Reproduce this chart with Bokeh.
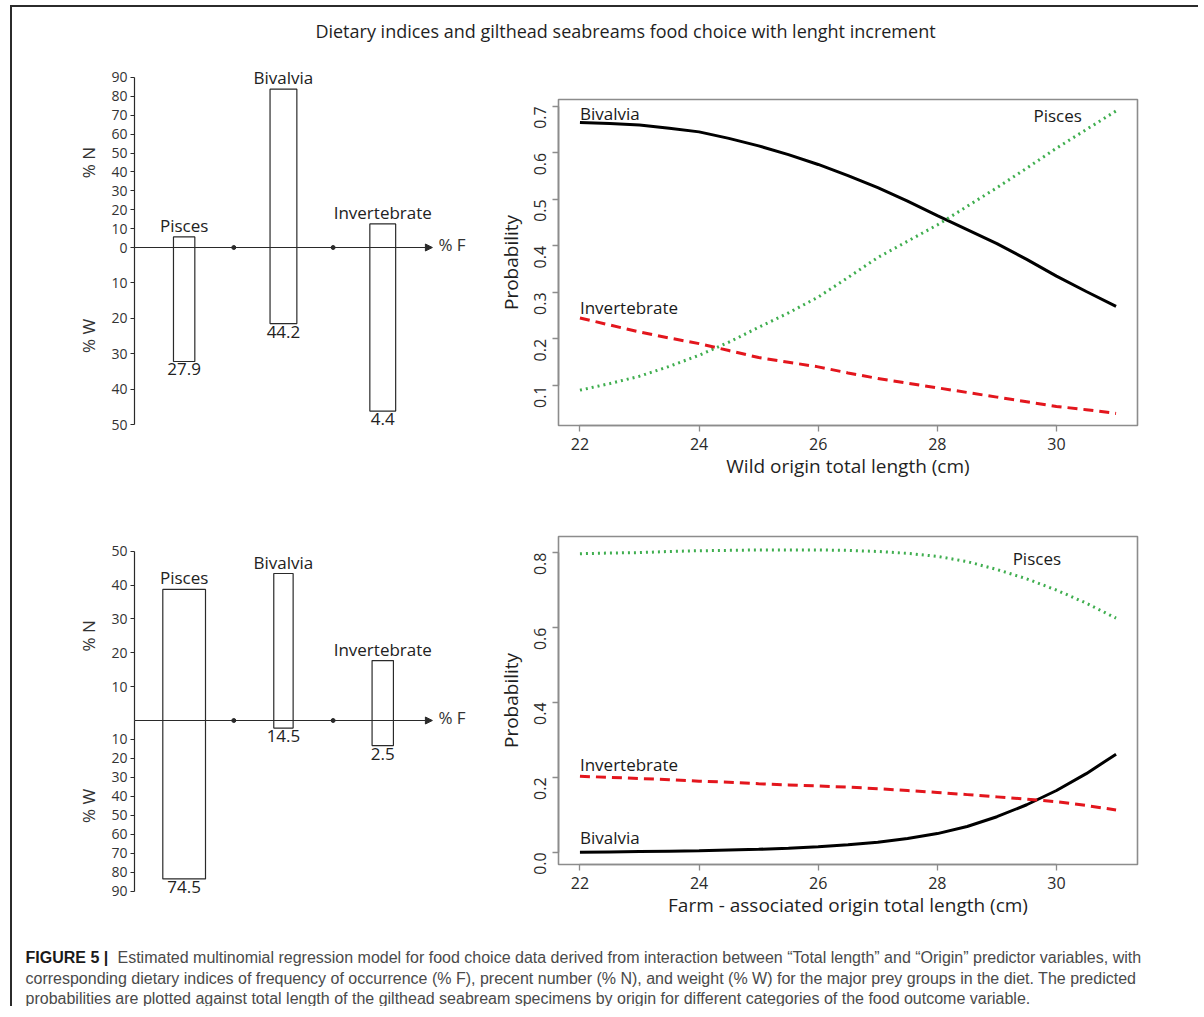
import math
from bokeh.plotting import figure
from bokeh.models import (Range1d, LinearAxis, FixedTicker, PrintfTickFormatter,
                          ColumnDataSource, LabelSet, Label, Arrow, NormalHead)
from bokeh.core.properties import value
from bokeh.layouts import column, row
from bokeh.embed import file_html
from bokeh.resources import INLINE

# ---------------- data ----------------
prey = ["Pisces", "Bivalvia", "Invertebrate"]
prey_pos = [0.5, 1.5, 2.5]          # position along the % F axis
f_ticks = [1, 2]

wild_pct_n = [5.6, 83.8, 12.5]
wild_pct_w = [32.2, 21.5, 46.2]
wild_bar_w = [0.215, 0.27, 0.26]
wild_value = ["27.9", "44.2", "4.4"]
wild_n_ticks = [0, 10, 20, 30, 40, 50, 60, 70, 80, 90]
wild_w_ticks = [10, 20, 30, 40, 50]

farm_pct_n = [38.7, 43.4, 17.7]
farm_pct_w = [83.5, 4.0, 13.2]
farm_bar_w = [0.43, 0.195, 0.215]
farm_value = ["74.5", "14.5", "2.5"]
farm_n_ticks = [10, 20, 30, 40, 50]
farm_w_ticks = [10, 20, 30, 40, 50, 60, 70, 80, 90]

length_cm = [22.0, 22.5, 23.0, 23.5, 24.0, 24.5, 25.0, 25.5, 26.0, 26.5,
             27.0, 27.5, 28.0, 28.5, 29.0, 29.5, 30.0, 30.5, 31.0]
wild_bivalvia = [0.665, 0.663, 0.660, 0.653, 0.645, 0.631, 0.615, 0.596, 0.575, 0.551,
                 0.525, 0.496, 0.465, 0.435, 0.405, 0.371, 0.335, 0.302, 0.270]
wild_pisces = [0.090, 0.104, 0.120, 0.141, 0.165, 0.193, 0.225, 0.256, 0.290, 0.332,
               0.375, 0.410, 0.445, 0.485, 0.525, 0.567, 0.610, 0.650, 0.690]
wild_invert = [0.245, 0.230, 0.215, 0.202, 0.190, 0.175, 0.160, 0.150, 0.140, 0.127,
               0.115, 0.105, 0.095, 0.085, 0.075, 0.065, 0.055, 0.048, 0.040]
farm_pisces = [0.797, 0.799, 0.800, 0.803, 0.805, 0.806, 0.807, 0.807, 0.807, 0.806,
               0.803, 0.798, 0.790, 0.776, 0.755, 0.730, 0.700, 0.665, 0.625]
farm_invert = [0.203, 0.200, 0.197, 0.194, 0.190, 0.187, 0.183, 0.180, 0.177, 0.174,
               0.170, 0.165, 0.160, 0.154, 0.148, 0.142, 0.135, 0.125, 0.113]
farm_bivalvia = [0.000, 0.001, 0.002, 0.003, 0.004, 0.006, 0.008, 0.011, 0.015, 0.020,
                 0.027, 0.037, 0.050, 0.069, 0.095, 0.127, 0.165, 0.210, 0.262]
x_ticks = [22, 24, 26, 28, 30]
wild_p_ticks = [0.1, 0.2, 0.3, 0.4, 0.5, 0.6, 0.7]
farm_p_ticks = [0.0, 0.2, 0.4, 0.6, 0.8]

TITLE = "Dietary indices and gilthead seabreams food choice with lenght increment"
CAP_BOLD = "FIGURE 5 |"
CAP_1 = ("Estimated multinomial regression model for food choice data derived from interaction "
         "between \u201cTotal length\u201d and \u201cOrigin\u201d predictor variables, with")
CAP_2 = ("corresponding dietary indices of frequency of occurrence (% F), precent number (% N), "
         "and weight (% W) for the major prey groups in the diet. The predicted")
CAP_3 = ("probabilities are plotted against total length of the gilthead seabream specimens "
         "by origin for different categories of the food outcome variable.")

FONT = "Open Sans"
INK = "#2a2a2a"


def base_fig(**kw):
    p = figure(output_backend="svg", toolbar_location=None,
               x_axis_location=None, y_axis_location=None, **kw)
    p.grid.visible = False
    p.outline_line_color = None
    p.background_fill_color = "white"
    p.border_fill_color = "white"
    return p


def style_axis(ax):
    ax.axis_line_color = INK
    ax.axis_line_width = 1.2
    ax.major_tick_line_color = INK
    ax.major_tick_out = 4
    ax.major_tick_in = 0
    ax.minor_tick_line_color = None
    ax.major_label_standoff = 3
    ax.major_label_text_font = FONT
    ax.major_label_text_font_size = "14px"
    ax.major_label_text_color = "#333333"


def costello(n_vals, w_vals, widths, values, n_ticks, w_ticks,
             sN, sW, row_top, T, Z, B, row_bot):
    """Costello-type diagram: % N above the % F axis, % W below it."""
    src = ColumnDataSource(dict(pos=prey_pos, n=n_vals, w=w_vals, bw=widths,
                                name=prey, value=values))
    sF = 99.3                      # px per % F unit
    p = base_fig(width=468, height=row_bot - row_top,
                 min_border_left=60, min_border_right=8,
                 min_border_top=T - row_top, min_border_bottom=row_bot - B,
                 x_range=Range1d(-62 / sF, 338 / sF),
                 y_range=Range1d(-(B - Z) / sN, (Z - T) / sN))
    p.extra_y_ranges = {"w": Range1d((B - Z) / sW, -(Z - T) / sW)}
    ax_n = LinearAxis(ticker=FixedTicker(ticks=n_ticks), bounds=(0, n_ticks[-1]),
                      fixed_location=0)
    ax_w = LinearAxis(y_range_name="w", ticker=FixedTicker(ticks=w_ticks),
                      bounds=(0, w_ticks[-1]), fixed_location=0)
    for ax in (ax_n, ax_w):
        style_axis(ax)
        p.add_layout(ax, "left")
    lab_x = -46 / sF
    p.add_layout(Label(x=lab_x, y=n_ticks[-1] / 2, text="% N", angle=math.pi / 2,
                       text_align="center", text_baseline="middle", text_font=FONT,
                       text_font_size="17px", text_color="#333333"))
    p.add_layout(Label(x=lab_x, y=w_ticks[-1] / 2, y_range_name="w", text="% W",
                       angle=math.pi / 2, text_align="center", text_baseline="middle",
                       text_font=FONT, text_font_size="17px", text_color="#333333"))
    # bars
    p.vbar(x="pos", width="bw", top="n", bottom=0, source=src,
           fill_color=None, line_color=INK, line_width=1.2)
    p.vbar(x="pos", width="bw", top=0, bottom="w", source=src, y_range_name="w",
           fill_color=None, line_color=INK, line_width=1.2)
    # % F axis with arrow
    p.add_layout(Arrow(x_start=0, y_start=0, x_end=3.0, y_end=0, line_color=INK,
                       line_width=1.2,
                       end=NormalHead(size=7, fill_color=INK, line_color=INK)))
    p.scatter(x=f_ticks, y=[0] * len(f_ticks), marker="circle", size=4,
              fill_color=INK, line_color=INK)
    p.add_layout(Label(x=3.0, y=0, x_offset=6, y_offset=3, text="% F",
                       text_baseline="middle", text_font=FONT, text_font_size="17px",
                       text_color="#333333"))
    p.add_layout(LabelSet(x="pos", y="n", text="name", source=src, y_offset=5,
                          text_align="center", text_baseline="alphabetic",
                          text_font=value(FONT), text_font_size=value("17px"),
                          text_color="#222222"))
    p.add_layout(LabelSet(x="pos", y="w", text="value", source=src, y_range_name="w",
                          y_offset=-2, text_align="center", text_baseline="top",
                          text_font=value(FONT), text_font_size=value("17px"),
                          text_color="#222222"))
    # wrapped so that its frame is not aligned with the neighbouring plot's frame
    return column(p, spacing=0)


def prob_fig(height, mb_top, mb_bot, y_rng, y_ticks, xlabel, series, labels):
    p = figure(output_backend="svg", toolbar_location=None, width=718, height=height,
               min_border_left=78, min_border_right=61,
               min_border_top=mb_top, min_border_bottom=mb_bot,
               x_range=Range1d(21.64, 31.36), y_range=Range1d(*y_rng))
    p.grid.visible = False
    p.outline_line_color = "#8c8c8c"
    p.outline_line_width = 1.6
    p.xaxis.ticker = FixedTicker(ticks=x_ticks)
    p.xaxis.bounds = (x_ticks[0], x_ticks[-1])
    p.yaxis.ticker = FixedTicker(ticks=y_ticks)
    p.yaxis.bounds = (y_ticks[0], y_ticks[-1])
    p.yaxis.formatter = PrintfTickFormatter(format="%.1f")
    p.yaxis.major_label_orientation = math.pi / 2
    p.xaxis.axis_label = xlabel
    p.yaxis.axis_label = "Probability"
    for ax in (p.xaxis[0], p.yaxis[0]):
        ax.axis_line_color = "#8c8c8c"
        ax.axis_line_width = 1.6
        ax.major_tick_line_color = "#8c8c8c"
        ax.major_tick_line_width = 1.3
        ax.major_tick_out = 6
        ax.major_tick_in = 0
        ax.minor_tick_line_color = None
        ax.major_label_text_font = FONT
        ax.major_label_text_font_size = "16px"
        ax.major_label_text_color = "#2a2a2a"
        ax.axis_label_text_font = FONT
        ax.axis_label_text_font_size = "19px"
        ax.axis_label_text_font_style = "normal"
        ax.axis_label_text_color = "#1f1f1f"
    p.xaxis.major_label_standoff = 6
    p.xaxis.axis_label_standoff = 0
    p.yaxis.major_label_standoff = 12
    p.yaxis.axis_label_standoff = 2
    for ys, color, dash, lw in series:
        p.line(length_cm, ys, line_color=color, line_dash=dash, line_width=lw)
    for lab in labels:
        p.add_layout(Label(text_font=FONT, text_font_size="17px", text_color="#1a1a1a",
                           text_baseline="middle", **lab))
    return p


GREEN = "#3fae4f"
RED = "#e3161d"

lt = costello(wild_pct_n, wild_pct_w, wild_bar_w, wild_value, wild_n_ticks, wild_w_ticks,
              sN=1.889, sW=3.54, row_top=50, T=62, Z=247, B=432, row_bot=490)
lb = costello(farm_pct_n, farm_pct_w, farm_bar_w, farm_value, farm_n_ticks, farm_w_ticks,
              sN=3.387, sW=1.897, row_top=490, T=545, Z=720, B=902, row_bot=925)

rt = prob_fig(440, 49, 65, (0.014, 0.7146), wild_p_ticks,
              "Wild origin total length (cm)",
              [(wild_bivalvia, "black", "solid", 3),
               (wild_pisces, GREEN, "2 4", 3),
               (wild_invert, RED, "10 6", 3)],
              [dict(x=length_cm[0], y=wild_bivalvia[0], y_offset=9, text=prey[1]),
               dict(x=30.02, y=0.680, text=prey[0], text_align="center"),
               dict(x=length_cm[0], y=wild_invert[0], y_offset=11, text=prey[2])])

rb = prob_fig(435, 46, 61, (-0.0325, 0.843), farm_p_ticks,
              "Farm - associated origin total length (cm)",
              [(farm_bivalvia, "black", "solid", 3),
               (farm_pisces, GREEN, "2 4", 3),
               (farm_invert, RED, "10 6", 3)],
              [dict(x=29.67, y=0.783, text=prey[0], text_align="center"),
               dict(x=length_cm[0], y=farm_invert[0], y_offset=12, text=prey[2]),
               dict(x=length_cm[0], y=farm_bivalvia[0], y_offset=15, text=prey[1])])

# title
tf = base_fig(width=1186, height=43, min_border=0,
              x_range=Range1d(0, 1186), y_range=Range1d(0, 43))
tf.add_layout(Label(x=613, y=20, x_units="screen", y_units="screen", text=TITLE,
                    text_align="center", text_baseline="middle", text_font=FONT,
                    text_font_size="18px", text_color="#1f1f1f"))

# caption
cf = base_fig(width=1186, height=81, min_border=0,
              x_range=Range1d(0, 1186), y_range=Range1d(0, 81))
CAP_FONT = "Liberation Sans"
cf.add_layout(Label(x=13, y=49, x_units="screen", y_units="screen", text=CAP_BOLD,
                    text_baseline="middle", text_font=CAP_FONT, text_font_style="bold",
                    text_font_size="16px", text_color="#1a1a1a"))
for txt, xx, yy in ((CAP_1, 105, 49), (CAP_2, 13, 28), (CAP_3, 13, 8)):
    cf.add_layout(Label(x=xx, y=yy, x_units="screen", y_units="screen", text=txt,
                        text_baseline="middle", text_font=CAP_FONT,
                        text_font_size="16px", text_color="#4a4a4a"))

page = column(tf, row(lt, rt, spacing=0), row(lb, rb, spacing=0), cf, spacing=0,
              styles={"position": "relative", "left": "10px", "top": "5px",
                      "border-left": "2px solid #2b2b2b", "border-top": "2px solid #2b2b2b"})

open("out.html", "w").write(file_html(page, INLINE))
